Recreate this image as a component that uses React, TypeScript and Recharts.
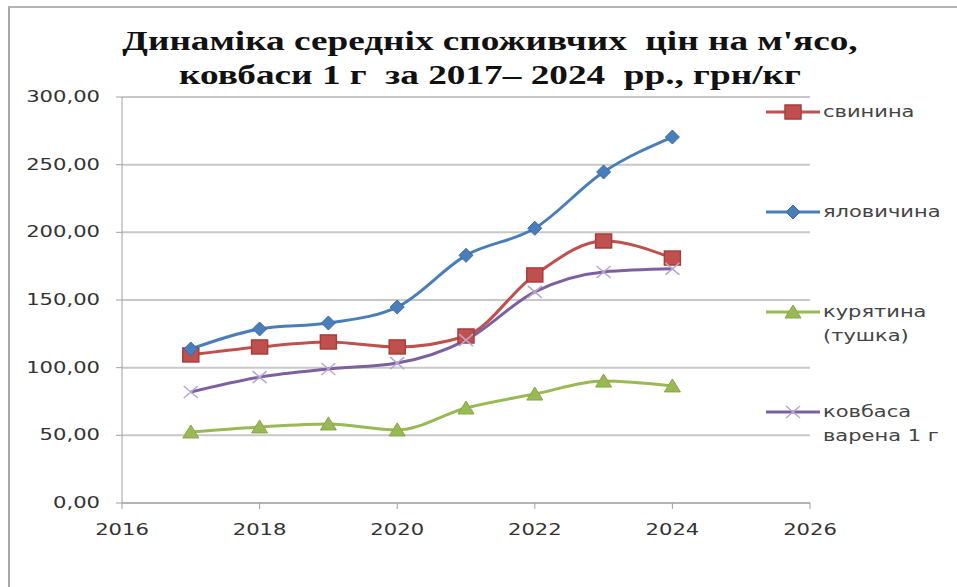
import React from "react";
import { CartesianGrid, Line, LineChart, XAxis, YAxis } from "recharts";

const years = [2017, 2018, 2019, 2020, 2021, 2022, 2023, 2024];
const pork = [109.4, 115.3, 119.0, 115.3, 123.4, 168.5, 193.6, 181.0];
const beef = [113.8, 128.6, 133.0, 144.8, 183.0, 203.0, 244.6, 270.4];
const chicken = [52.5, 56.2, 58.4, 54.0, 70.2, 80.5, 90.1, 86.5];
const sausage = [82.0, 93.0, 99.0, 103.4, 120.4, 156.0, 170.7, 173.0];

const xTicks = [2016, 2018, 2020, 2022, 2024, 2026];
const yTicks = [0, 50, 100, 150, 200, 250, 300];

const data = years.map((year, i) => ({
  year,
  pork: pork[i],
  beef: beef[i],
  chicken: chicken[i],
  sausage: sausage[i],
}));

type Kind = "square" | "diamond" | "triangle" | "cross";

const series: Array<{ key: string; label: string[]; color: string; kind: Kind }> = [
  { key: "pork", label: ["свинина"], color: "#c0504d", kind: "square" },
  { key: "beef", label: ["яловичина"], color: "#4a7ebb", kind: "diamond" },
  { key: "chicken", label: ["курятина", "(тушка)"], color: "#98b954", kind: "triangle" },
  { key: "sausage", label: ["ковбаса", "варена 1 г"], color: "#7d60a0", kind: "cross" },
];

const font = "'DejaVu Sans', Verdana, sans-serif";

function Marker({ kind, cx, cy }: { kind: Kind; cx: number; cy: number }) {
  if (kind === "square") {
    return <rect x={cx - 8} y={cy - 7} width={16} height={14} fill="#c0504d" stroke="#a63e3b" strokeWidth={1.5} />;
  }
  if (kind === "diamond") {
    return <path d={`M${cx},${cy - 7} L${cx + 7},${cy} L${cx},${cy + 7} L${cx - 7},${cy} Z`} fill="#4a7ebb" stroke="#3c6aa3" />;
  }
  if (kind === "triangle") {
    return <path d={`M${cx},${cy - 7} L${cx + 8},${cy + 6} L${cx - 8},${cy + 6} Z`} fill="#98b954" stroke="#86a748" />;
  }
  return (
    <path
      d={`M${cx - 7},${cy - 6} L${cx + 7},${cy + 6} M${cx - 7},${cy + 6} L${cx + 7},${cy - 6}`}
      stroke="#b6a6d0"
      strokeWidth={1.5}
    />
  );
}

const fmt = (v: number) => v.toFixed(2).replace(".", ",");

// the original is stretched sideways, so the texts are widened too
const YTick = ({ x, y, payload }: any) => (
  <text transform={`translate(${x},${y}) scale(1.32,1)`} textAnchor="end" dy={5} fontSize={16} fill="#333" fontFamily={font}>
    {fmt(payload.value)}
  </text>
);

const XTick = ({ x, y, payload }: any) => (
  <text transform={`translate(${x},${y}) scale(1.32,1)`} textAnchor="middle" dy={12} fontSize={16} fill="#333" fontFamily={font}>
    {payload.value}
  </text>
);

const legendTop = [112, 212, 312, 412];

export default function App() {
  return (
    <div style={{ position: "absolute", left: 0, top: 0, width: 957, height: 587, background: "#fff", overflow: "hidden" }}>
      <div
        style={{
          position: "absolute",
          left: 8,
          top: 6,
          width: 949,
          height: 581,
          borderTop: "2px solid #b4b4b4",
          borderLeft: "2px solid #a8a8a8",
        }}
      />
      <div
        style={{
          position: "absolute",
          left: 0,
          top: 24,
          width: 980,
          textAlign: "center",
          fontFamily: "'Liberation Serif', 'Times New Roman', serif",
          fontWeight: "bold",
          fontSize: 28,
          lineHeight: "34px",
          color: "#111",
          transform: "scaleX(1.33)",
          transformOrigin: "490px 0",
        }}
      >
        Динаміка середніх споживчих&nbsp; цін на м'ясо,
        <br />
        ковбаси 1 г&nbsp; за 2017– 2024&nbsp; рр., грн/кг
      </div>
      <LineChart
        width={957}
        height={587}
        data={data}
        margin={{ top: 97, right: 147, bottom: 54, left: 22 }}
        style={{ position: "absolute", left: 0, top: 0 }}
      >
        <CartesianGrid horizontal vertical={false} stroke="#c8c8c8" strokeWidth={2} />
        <XAxis
          dataKey="year"
          type="number"
          domain={[2016, 2026]}
          ticks={xTicks}
          height={30}
          tickSize={6}
          tickMargin={14}
          stroke="#a0a0a0"
          tick={<XTick />}
        />
        <YAxis
          type="number"
          domain={[0, 300]}
          ticks={yTicks}
          width={100}
          tickSize={6}
          tickMargin={16}
          stroke="#a0a0a0"
          tick={<YTick />}
        />
        {series.map((s) => (
          <Line
            key={s.key}
            type="monotone"
            dataKey={s.key}
            stroke={s.color}
            strokeWidth={3}
            isAnimationActive={false}
            dot={(p: any) => <Marker key={`${s.key}-${p.index}`} kind={s.kind} cx={p.cx} cy={p.cy} />}
            activeDot={false}
          />
        ))}
      </LineChart>
      <svg width={957} height={587} style={{ position: "absolute", left: 0, top: 0, pointerEvents: "none" }}>
        {series.map((s, i) => {
          const y = legendTop[i];
          return (
            <g key={s.key}>
              <line x1={766} x2={820} y1={y} y2={y} stroke={s.color} strokeWidth={3} />
              <Marker kind={s.kind} cx={793} cy={y} />
              {s.label.map((t, j) => (
                <text
                  key={j}
                  transform={`translate(823,${y + 5 + j * 24}) scale(1.4,1)`}
                  fontSize={15}
                  fill="#444"
                  fontFamily={font}
                >
                  {t}
                </text>
              ))}
            </g>
          );
        })}
      </svg>
    </div>
  );
}
